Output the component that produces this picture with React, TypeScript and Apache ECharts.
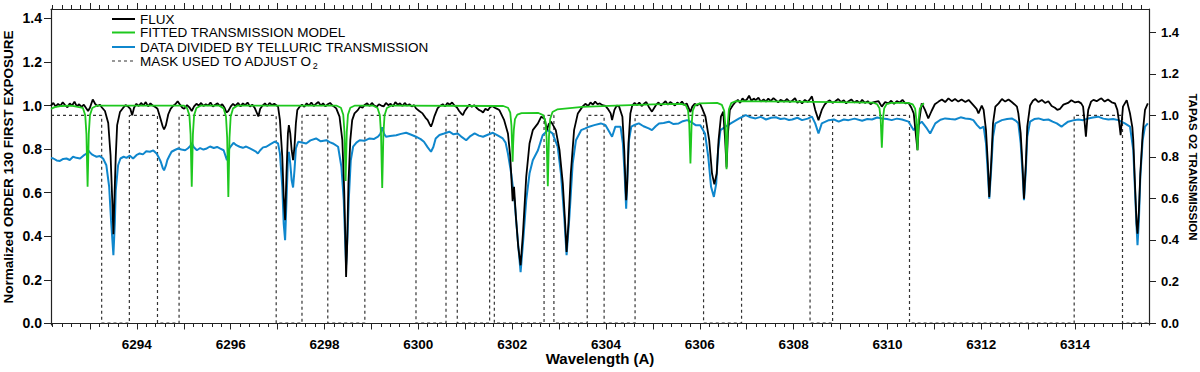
import React, { useEffect, useRef } from "react";
import * as echarts from "echarts";

// ---- axis ranges / tick labels ----
const X_MIN = 6292.17;
const X_MAX = 6315.575;
const X_LABELS = [6294, 6296, 6298, 6300, 6302, 6304, 6306, 6308, 6310, 6312, 6314];
const Y_LABELS = [0, 0.2, 0.4, 0.6, 0.8, 1.0, 1.2, 1.4];
const Y_RIGHT_LABELS = [0, 0.2, 0.4, 0.6, 0.8, 1.0, 1.2, 1.4];

const LEGEND_NAMES = ["FLUX", "FITTED TRANSMISSION MODEL", "DATA DIVIDED BY TELLURIC TRANSMISSION", "MASK USED TO ADJUST O"];

// ---- FLUX (black), [wavelength, normalized flux] ----
const FLUX: [number, number][] = [
  [6292.17,1.000],[6292.22,1.012],[6292.27,0.995],[6292.32,1.008],[6292.37,0.998],[6292.42,1.015],[6292.47,1.002],[6292.52,0.992],[6292.57,1.010],[6292.62,1.000],[6292.67,1.018],[6292.72,0.996],[6292.77,1.006],[6292.82,0.994],[6292.87,1.004],[6292.92,0.988],[6292.96,0.975],[6293.00,0.990],[6293.06,1.028],[6293.11,1.008],[6293.16,0.998],[6293.21,1.004],[6293.26,0.990],
  [6293.32,0.975],[6293.39,0.920],[6293.44,0.770],[6293.48,0.540],[6293.50,0.410],[6293.52,0.560],[6293.55,0.765],[6293.58,0.910],[6293.64,0.970],[6293.71,0.990],[6293.76,1.002],[6293.81,0.996],[6293.86,0.985],[6293.90,0.955],[6293.94,0.990],[6293.99,1.008],[6294.04,0.998],[6294.09,1.012],[6294.14,1.000],[6294.19,1.016],[6294.24,0.996],[6294.29,1.010],[6294.34,1.000],[6294.39,0.994],[6294.44,0.985],[6294.49,0.950],[6294.55,0.905],[6294.58,0.890],[6294.62,0.910],[6294.67,0.960],[6294.72,0.985],[6294.77,0.998],[6294.82,1.006],[6294.87,1.020],[6294.92,1.004],[6294.97,0.990],
  [6295.01,0.985],[6295.07,1.002],[6295.12,0.992],[6295.17,0.975],[6295.22,0.996],[6295.27,1.008],[6295.32,1.000],[6295.37,1.012],[6295.42,0.998],[6295.47,1.006],[6295.52,1.000],[6295.57,1.014],[6295.62,0.996],[6295.67,1.004],[6295.72,1.010],[6295.77,0.998],[6295.82,1.006],[6295.87,0.990],[6295.91,0.968],[6295.95,0.975],[6296.00,0.995],[6296.05,1.008],[6296.10,0.998],[6296.16,1.012],[6296.21,0.996],[6296.26,1.010],[6296.31,1.002],[6296.36,1.014],[6296.41,0.996],[6296.46,1.004],[6296.51,0.990],[6296.56,0.965],[6296.59,0.950],[6296.63,0.985],[6296.68,1.000],[6296.73,1.010],[6296.78,0.998],[6296.83,1.012],[6296.88,1.002],[6296.93,1.008],[6296.98,1.000],
  [6297.01,0.995],[6297.05,0.933],[6297.10,0.765],[6297.13,0.581],[6297.16,0.474],[6297.19,0.688],[6297.22,0.872],[6297.24,0.910],[6297.27,0.872],[6297.30,0.795],[6297.33,0.749],[6297.36,0.811],[6297.39,0.918],[6297.42,0.979],[6297.47,0.995],[6297.52,1.004],[6297.57,0.994],[6297.62,1.010],[6297.67,1.000],[6297.72,1.014],[6297.77,0.998],[6297.82,1.008],[6297.87,1.016],[6297.92,1.000],[6297.97,1.010],[6298.02,0.996],[6298.07,1.006],[6298.12,1.012],[6298.17,1.000],[6298.21,0.994],
  [6298.25,0.987],[6298.32,0.949],[6298.38,0.841],[6298.42,0.611],[6298.45,0.336],[6298.46,0.213],[6298.48,0.336],[6298.51,0.642],[6298.55,0.841],[6298.59,0.933],[6298.64,0.964],[6298.71,0.979],[6298.76,0.996],[6298.81,0.990],[6298.86,1.004],[6298.91,1.010],[6298.96,0.998],[6299.01,1.012],[6299.06,1.000],[6299.11,0.994],[6299.16,1.006],[6299.21,1.000],[6299.26,0.996],[6299.31,1.012],[6299.36,1.002],[6299.41,1.008],[6299.46,0.996],[6299.51,1.016],[6299.56,1.004],[6299.61,1.010],[6299.66,0.998],[6299.71,1.012],[6299.76,1.000],[6299.81,1.006],[6299.86,0.996],[6299.91,1.002],[6299.95,0.987],
  [6300.02,0.975],[6300.09,0.964],[6300.15,0.945],[6300.20,0.933],[6300.24,0.915],[6300.27,0.903],[6300.30,0.920],[6300.34,0.949],[6300.41,0.987],[6300.46,0.998],
  [6300.52,1.006],[6300.57,0.996],[6300.62,1.012],[6300.67,1.004],[6300.72,1.014],[6300.77,1.000],[6300.82,0.992],[6300.87,0.975],[6300.92,0.962],[6300.95,0.956],[6300.99,0.975],[6301.04,0.990],[6301.09,1.004],[6301.14,0.994],[6301.19,1.002],[6301.24,0.990],[6301.29,0.980],[6301.34,0.975],[6301.38,0.968],[6301.43,0.985],[6301.48,0.978],[6301.53,0.992],[6301.58,0.998],[6301.63,0.990],[6301.68,0.985],[6301.73,0.978],
  [6301.83,0.933],[6301.91,0.872],[6301.96,0.765],[6302.01,0.561],[6302.04,0.627],[6302.08,0.489],[6302.13,0.351],[6302.18,0.267],[6302.23,0.412],[6302.30,0.673],[6302.37,0.826],[6302.44,0.887],[6302.55,0.918],[6302.62,0.949],[6302.69,0.940],[6302.74,0.887],[6302.78,0.915],[6302.83,0.926],[6302.93,0.887],[6303.01,0.795],[6303.08,0.642],[6303.13,0.458],[6303.16,0.328],[6303.20,0.458],[6303.25,0.688],[6303.32,0.887],[6303.40,0.964],[6303.50,0.995],[6303.56,1.008],[6303.62,0.998],[6303.67,1.014],[6303.72,1.004],[6303.77,1.018],[6303.82,1.006],[6303.87,1.010],[6303.92,1.002],[6303.99,0.998],
  [6304.04,0.985],[6304.10,0.964],[6304.13,0.933],[6304.18,0.980],[6304.23,1.000],[6304.28,0.995],[6304.35,0.949],[6304.39,0.795],[6304.42,0.611],[6304.43,0.566],[6304.45,0.627],[6304.48,0.826],[6304.52,0.964],[6304.56,1.000],[6304.61,1.012],[6304.66,1.002],[6304.71,1.014],[6304.76,0.998],[6304.81,1.008],[6304.86,1.016],[6304.91,0.995],[6304.98,0.972],[6305.03,0.990],[6305.07,1.004],[6305.12,1.014],[6305.17,1.000],[6305.22,1.010],[6305.27,1.020],[6305.32,1.004],[6305.37,1.016],[6305.42,1.008],[6305.47,1.000],[6305.52,1.014],[6305.57,1.006],[6305.62,1.018],[6305.67,1.002],[6305.72,1.010],[6305.77,0.985],[6305.80,0.970],[6305.84,0.995],[6305.89,1.008],[6305.94,1.000],[6306.00,1.010],[6306.05,0.987],
  [6306.12,0.949],[6306.20,0.841],[6306.26,0.688],[6306.31,0.638],[6306.36,0.688],[6306.40,0.841],[6306.45,0.949],[6306.50,0.972],[6306.54,0.841],[6306.57,0.716],[6306.60,0.872],[6306.64,0.979],[6306.70,1.000],[6306.76,1.016],[6306.81,1.026],[6306.86,1.012],[6306.91,1.033],[6306.96,1.020],[6307.01,1.030],[6307.05,1.045],[6307.10,1.022],[6307.15,1.032],[6307.19,1.025],[6307.25,1.036],[6307.30,1.018],[6307.36,1.028],[6307.41,1.018],[6307.46,1.032],[6307.51,1.020],[6307.57,1.034],[6307.62,1.025],[6307.67,1.014],[6307.72,1.026],[6307.80,1.018],[6307.86,1.030],[6307.92,1.016],[6307.97,1.022],
  [6308.03,1.034],[6308.08,1.012],[6308.13,1.022],[6308.18,1.010],[6308.24,1.026],[6308.30,1.016],[6308.35,1.030],[6308.39,1.042],[6308.46,0.980],[6308.53,0.933],[6308.60,0.980],[6308.66,1.004],[6308.71,1.016],[6308.77,1.024],[6308.83,1.012],[6308.89,1.020],[6308.95,1.030],[6309.01,1.016],[6309.07,1.024],[6309.12,1.010],[6309.17,1.020],[6309.23,1.028],[6309.29,1.014],[6309.35,1.022],[6309.41,1.012],[6309.46,1.026],[6309.52,1.012],[6309.58,1.020],[6309.64,1.006],[6309.69,1.014],
  [6309.81,1.020],[6309.88,0.995],[6309.95,1.016],[6310.02,1.010],[6310.08,1.022],[6310.14,1.008],[6310.20,1.020],[6310.26,1.014],[6310.32,1.026],[6310.38,1.010],[6310.45,1.012],[6310.51,0.990],[6310.56,0.964],[6310.61,0.857],[6310.64,0.795],[6310.67,0.918],[6310.73,1.010],[6310.80,0.980],[6310.87,0.941],[6310.94,0.975],[6311.01,1.006],[6311.09,1.018],[6311.16,1.028],[6311.23,1.016],[6311.30,1.033],[6311.37,1.020],[6311.44,1.030],[6311.51,1.018],[6311.58,1.028],
  [6311.66,1.016],[6311.73,1.026],[6311.83,1.002],[6311.90,0.985],[6311.94,0.964],[6312.01,1.000],[6312.05,0.980],[6312.10,0.887],[6312.14,0.734],[6312.17,0.581],[6312.21,0.734],[6312.25,0.918],[6312.30,0.995],[6312.37,1.010],[6312.44,1.030],[6312.51,1.018],[6312.58,1.028],[6312.65,1.016],[6312.71,1.005],[6312.76,0.995],[6312.79,0.964],[6312.84,0.872],[6312.88,0.719],[6312.91,0.573],[6312.95,0.734],[6312.98,0.903],
  [6313.04,1.000],[6313.10,1.022],[6313.15,1.030],[6313.22,1.016],[6313.29,1.026],[6313.36,1.012],[6313.43,1.020],[6313.50,0.998],[6313.57,0.990],[6313.62,0.980],[6313.68,0.985],[6313.75,1.004],[6313.85,1.012],[6313.92,1.024],[6314.00,1.014],[6314.07,1.018],[6314.13,1.010],[6314.17,0.995],[6314.20,0.930],[6314.23,0.857],[6314.26,0.940],[6314.28,0.980],[6314.34,1.018],[6314.39,1.026],[6314.46,1.020],[6314.53,1.030],[6314.56,1.033],[6314.63,1.018],[6314.70,1.028],[6314.78,1.015],[6314.85,1.010],[6314.90,0.980],[6314.94,0.920],[6314.97,0.864],
  [6315.02,0.995],[6315.10,1.025],[6315.17,0.964],[6315.22,0.900],[6315.24,0.841],[6315.27,0.673],[6315.31,0.458],[6315.33,0.412],[6315.36,0.519],[6315.39,0.688],[6315.44,0.872],[6315.49,0.980],[6315.55,1.010]
];

// ---- DATA DIVIDED BY TELLURIC TRANSMISSION (blue) ----
const RATIO: [number, number][] = [
  [6292.17,0.760],[6292.22,0.757],[6292.29,0.748],[6292.36,0.746],[6292.43,0.755],[6292.50,0.757],[6292.57,0.750],[6292.64,0.765],[6292.71,0.760],[6292.79,0.757],[6292.86,0.770],[6292.93,0.780],[6292.96,0.795],[6293.00,0.785],[6293.04,0.776],[6293.09,0.770],[6293.14,0.765],[6293.21,0.768],[6293.28,0.757],
  [6293.35,0.726],[6293.41,0.627],[6293.45,0.474],[6293.50,0.313],[6293.53,0.458],[6293.55,0.611],[6293.60,0.726],[6293.65,0.757],[6293.72,0.765],[6293.78,0.760],[6293.85,0.770],[6293.92,0.757],[6293.99,0.772],[6294.06,0.780],[6294.13,0.776],[6294.20,0.790],[6294.28,0.788],[6294.35,0.794],[6294.42,0.780],[6294.47,0.760],[6294.51,0.742],[6294.55,0.715],[6294.58,0.703],[6294.62,0.725],[6294.65,0.750],[6294.70,0.772],[6294.74,0.788],[6294.81,0.796],[6294.88,0.803],[6294.95,0.798],
  [6295.03,0.795],[6295.09,0.804],[6295.14,0.815],[6295.17,0.829],[6295.21,0.810],[6295.28,0.795],[6295.35,0.805],[6295.42,0.798],[6295.49,0.803],[6295.56,0.812],[6295.64,0.805],[6295.71,0.810],[6295.78,0.802],[6295.85,0.795],[6295.92,0.749],[6295.97,0.803],[6296.01,0.815],[6296.06,0.829],[6296.12,0.818],[6296.19,0.811],[6296.26,0.806],[6296.33,0.812],[6296.41,0.803],[6296.48,0.795],[6296.54,0.788],[6296.58,0.780],[6296.63,0.795],[6296.69,0.808],[6296.76,0.811],[6296.84,0.822],[6296.94,0.834],
  [6297.01,0.826],[6297.05,0.780],[6297.10,0.627],[6297.13,0.458],[6297.16,0.382],[6297.19,0.566],[6297.22,0.749],[6297.24,0.788],[6297.27,0.734],[6297.30,0.657],[6297.33,0.624],[6297.36,0.703],[6297.39,0.803],[6297.44,0.834],[6297.52,0.830],[6297.61,0.826],[6297.70,0.840],[6297.82,0.849],[6297.92,0.836],[6298.04,0.841],[6298.11,0.832],[6298.18,0.826],[6298.29,0.811],
  [6298.36,0.719],[6298.41,0.566],[6298.44,0.382],[6298.46,0.267],[6298.49,0.397],[6298.52,0.581],[6298.56,0.749],[6298.61,0.811],[6298.68,0.830],[6298.75,0.841],[6298.85,0.838],[6298.96,0.849],[6299.05,0.846],[6299.14,0.857],[6299.19,0.870],[6299.23,0.900],[6299.27,0.870],[6299.31,0.857],[6299.40,0.860],[6299.53,0.864],[6299.63,0.870],[6299.74,0.875],[6299.85,0.866],[6299.95,0.857],
  [6300.05,0.846],[6300.12,0.834],[6300.20,0.808],[6300.27,0.788],[6300.32,0.810],[6300.37,0.849],[6300.45,0.865],[6300.55,0.872],[6300.66,0.880],[6300.75,0.868],[6300.84,0.872],[6300.93,0.855],[6301.02,0.841],[6301.11,0.860],[6301.20,0.872],[6301.29,0.862],[6301.38,0.857],[6301.48,0.866],[6301.59,0.875],[6301.70,0.862],[6301.80,0.849],
  [6301.86,0.830],[6301.91,0.780],[6301.98,0.688],[6302.05,0.566],[6302.12,0.382],[6302.18,0.236],[6302.23,0.366],[6302.30,0.566],[6302.37,0.688],[6302.44,0.749],[6302.55,0.795],[6302.65,0.864],[6302.76,0.887],[6302.86,0.872],[6302.97,0.811],[6303.04,0.688],[6303.11,0.489],[6303.16,0.313],[6303.22,0.489],[6303.29,0.734],[6303.36,0.841],[6303.47,0.887],[6303.56,0.895],[6303.64,0.903],[6303.75,0.910],[6303.89,0.918],[6303.99,0.910],
  [6304.07,0.880],[6304.13,0.857],[6304.20,0.903],[6304.31,0.903],[6304.36,0.826],[6304.40,0.673],[6304.43,0.527],[6304.46,0.688],[6304.49,0.841],[6304.54,0.903],[6304.62,0.912],[6304.70,0.918],[6304.80,0.905],[6304.91,0.895],[6304.98,0.887],[6305.06,0.905],[6305.13,0.918],[6305.23,0.920],[6305.34,0.926],[6305.44,0.915],[6305.55,0.918],[6305.64,0.928],[6305.73,0.933],[6305.80,0.926],[6305.91,0.910],[6306.01,0.910],[6306.11,0.872],
  [6306.18,0.765],[6306.24,0.627],[6306.30,0.581],[6306.35,0.642],[6306.39,0.795],[6306.44,0.887],[6306.55,0.903],[6306.66,0.918],[6306.84,0.941],[6306.98,0.956],[6307.08,0.946],[6307.19,0.941],[6307.30,0.948],[6307.41,0.936],[6307.52,0.944],[6307.62,0.946],[6307.72,0.938],[6307.80,0.941],[6307.90,0.934],[6307.97,0.936],
  [6308.08,0.944],[6308.18,0.933],[6308.30,0.940],[6308.39,0.949],[6308.46,0.918],[6308.53,0.872],[6308.60,0.918],[6308.75,0.933],[6308.86,0.936],[6308.96,0.926],[6309.07,0.936],[6309.17,0.933],[6309.30,0.940],[6309.46,0.930],[6309.57,0.938],[6309.67,0.936],[6309.78,0.945],[6309.88,0.941],[6309.99,0.938],
  [6310.09,0.933],[6310.20,0.940],[6310.31,0.936],[6310.45,0.926],[6310.56,0.887],[6310.64,0.910],[6310.73,0.926],[6310.84,0.895],[6310.91,0.872],[6311.02,0.918],[6311.13,0.935],[6311.23,0.941],[6311.34,0.938],[6311.44,0.936],[6311.56,0.946],
  [6311.66,0.941],[6311.76,0.938],[6311.83,0.933],[6311.91,0.910],[6311.98,0.895],[6312.05,0.903],[6312.10,0.826],[6312.14,0.688],[6312.17,0.573],[6312.21,0.703],[6312.25,0.857],[6312.30,0.918],[6312.44,0.933],[6312.55,0.938],[6312.65,0.941],[6312.74,0.930],[6312.79,0.918],[6312.84,0.826],[6312.88,0.688],[6312.91,0.566],[6312.95,0.703],[6312.98,0.857],
  [6313.04,0.926],[6313.13,0.938],[6313.22,0.941],[6313.33,0.934],[6313.43,0.936],[6313.52,0.926],[6313.61,0.918],[6313.71,0.903],[6313.78,0.915],[6313.85,0.926],[6313.96,0.932],[6314.07,0.936],[6314.17,0.933],[6314.28,0.941],[6314.38,0.945],[6314.49,0.949],[6314.60,0.940],[6314.71,0.936],[6314.81,0.938],[6314.92,0.933],
  [6315.06,0.918],[6315.17,0.903],[6315.24,0.795],[6315.27,0.642],[6315.31,0.443],[6315.33,0.359],[6315.36,0.474],[6315.39,0.673],[6315.44,0.841],[6315.49,0.903],[6315.55,0.918]
];

// ---- FITTED TRANSMISSION MODEL (green) ----
const MODEL: [number, number][] = [
  [6292.17,0.985],[6292.25,0.993],[6292.40,0.998],[6292.60,1.000],
  [6292.85,0.989],[6292.90,0.955],[6292.925,0.869],[6292.938,0.739],[6292.95,0.627],[6292.962,0.739],[6292.975,0.869],[6293.00,0.955],[6293.05,0.989],[6293.15,1.000],
  [6295.00,1.000],
  [6295.07,0.989],[6295.12,0.955],[6295.145,0.869],[6295.158,0.739],[6295.17,0.627],[6295.182,0.739],[6295.195,0.869],[6295.22,0.955],[6295.27,0.989],[6295.37,1.000],
  [6295.75,1.000],
  [6295.85,0.987],[6295.90,0.950],[6295.925,0.853],[6295.938,0.706],[6295.95,0.580],[6295.962,0.706],[6295.975,0.853],[6296.00,0.950],[6296.05,0.987],[6296.15,1.000],
  [6298.25,1.000],
  [6298.35,0.990],[6298.40,0.958],[6298.425,0.879],[6298.438,0.758],[6298.45,0.654],[6298.462,0.758],[6298.475,0.879],[6298.50,0.958],[6298.55,0.990],[6298.65,1.000],
  [6299.03,1.000],
  [6299.13,0.989],[6299.18,0.955],[6299.205,0.868],[6299.218,0.735],[6299.23,0.622],[6299.242,0.735],[6299.255,0.868],[6299.28,0.955],[6299.33,0.989],[6299.43,1.000],
  [6301.81,0.998],
  [6301.91,0.990],[6301.96,0.967],[6301.985,0.908],[6301.998,0.819],[6302.01,0.742],[6302.022,0.826],[6302.035,0.887],[6302.06,0.938],[6302.11,0.958],[6302.20,0.965],
  [6302.56,0.966],
  [6302.66,0.956],[6302.71,0.926],[6302.735,0.848],[6302.748,0.731],[6302.76,0.630],[6302.772,0.735],[6302.785,0.858],[6302.81,0.938],[6302.86,0.970],[6302.96,0.982],
  [6303.50,0.994],[6304.20,1.000],[6305.00,1.005],[6305.60,1.008],
  [6305.70,1.002],[6305.75,0.977],[6305.775,0.913],[6305.788,0.817],[6305.80,0.734],[6305.812,0.817],[6305.825,0.913],[6305.85,0.977],[6305.90,1.002],[6306.00,1.010],
  [6306.37,1.012],
  [6306.47,1.003],[6306.52,0.976],[6306.545,0.906],[6306.558,0.799],[6306.57,0.708],[6306.582,0.802],[6306.595,0.911],[6306.62,0.983],[6306.67,1.011],[6306.77,1.020],
  [6308.00,1.018],[6309.70,1.013],
  [6309.78,1.006],[6309.83,0.987],[6309.855,0.940],[6309.868,0.868],[6309.88,0.807],[6309.892,0.868],[6309.905,0.940],[6309.93,0.987],[6309.98,1.006],[6310.08,1.012],
  [6310.44,1.012],
  [6310.54,1.005],[6310.59,0.986],[6310.615,0.936],[6310.628,0.860],[6310.64,0.795],[6310.652,0.860],[6310.665,0.936],[6310.69,0.986],[6310.74,1.005],[6310.78,1.010]
];

// ---- MASK windows (wavelength ranges set to 0 on the right axis) ----
const MASK_WINDOWS: [number, number][] = [
  [6293.25, 6293.84], [6294.44, 6294.90], [6296.97, 6297.52], [6298.07, 6298.86],
  [6299.95, 6300.59], [6300.83, 6301.52], [6301.62, 6302.68], [6302.89, 6303.60],
  [6303.96, 6304.62], [6306.08, 6306.89], [6308.35, 6308.83], [6310.47, 6313.98],
  [6315.01, 6315.575]
];

const FONT = '"Liberation Sans", Arial, Helvetica, sans-serif';
const BLACK = "#000000";
const GREEN = "#1ec81e";
const BLUE = "#0f87cd";
const AXIS_COLOR = "#222222";

function buildMask(): [number, number][] {
  const out: [number, number][] = [[X_MIN, 1]];
  for (const [a, b] of MASK_WINDOWS) {
    out.push([a, 1], [a, 0], [b, 0]);
    if (b < X_MAX) out.push([b, 1]);
  }
  const last = MASK_WINDOWS[MASK_WINDOWS.length - 1];
  if (last[1] < X_MAX) out.push([X_MAX, 1]);
  return out;
}

function range(start: number, end: number, step: number): number[] {
  const out: number[] = [];
  const n = Math.round((end - start) / step);
  for (let i = 0; i <= n; i++) out.push(Math.round((start + i * step) * 1000) / 1000);
  return out;
}

export default function App() {
  const ref = useRef<HTMLDivElement>(null);

  useEffect(() => {
    if (!ref.current) return;
    const chart = echarts.init(ref.current, null, { renderer: "svg" });

    const unitTicks = range(6293, 6315, 1);
    const minorTicks = range(6292.2, 6315.4, 0.2).filter((v) => Math.abs(v - Math.round(v)) > 0.01);
    const axisLine = { show: true, lineStyle: { color: AXIS_COLOR, width: 1.2 } };
    const tickStyle = { color: AXIS_COLOR, width: 1 };
    const labelStyle = { fontFamily: FONT, fontWeight: "bold" as const, color: BLACK };

    const legendY = [19, 32.5, 47, 61];
    const legendColors = [BLACK, GREEN, BLUE, "#333333"];
    const graphic: any[] = [];
    LEGEND_NAMES.forEach((name, i) => {
      graphic.push({
        type: "line",
        shape: { x1: 112, y1: legendY[i], x2: 135, y2: legendY[i] },
        style: { stroke: legendColors[i], lineWidth: i === 3 ? 1.2 : 2, lineDash: i === 3 ? [3, 3] : null },
        silent: true,
      });
      graphic.push({
        type: "text",
        x: 140,
        y: legendY[i],
        style: { text: name, fill: BLACK, font: `normal 13.5px ${FONT}`, textAlign: "left", textVerticalAlign: "middle" },
        silent: true,
      });
    });
    graphic.push({
      type: "text",
      x: 312.8,
      y: 66,
      style: { text: "2", fill: BLACK, font: `normal 9px ${FONT}`, textAlign: "left", textVerticalAlign: "middle" },
      silent: true,
    });

    chart.setOption({
      animation: false,
      backgroundColor: "#ffffff",
      grid: { left: 51, right: 51, top: 9, bottom: 47, containLabel: false, outerBoundsMode: "none" },
      xAxis: [
        {
          type: "value", position: "bottom", min: X_MIN, max: X_MAX,
          axisLine,
          axisTick: { show: true, customValues: unitTicks, length: 6, inside: false, lineStyle: tickStyle },
          axisLabel: { customValues: X_LABELS, margin: 12, fontSize: 13.5, ...labelStyle, formatter: (v: number) => String(Math.round(v)) },
          splitLine: { show: false },
          name: "Wavelength (A)", nameLocation: "middle", nameGap: 26, nameMoveOverlap: false,
          nameTextStyle: { fontFamily: FONT, fontWeight: "bold", fontSize: 15, color: BLACK },
        },
        {
          type: "value", position: "bottom", min: X_MIN, max: X_MAX,
          axisLine: { show: false },
          axisTick: { show: true, customValues: minorTicks, length: 4, inside: false, lineStyle: tickStyle },
          axisLabel: { show: false }, splitLine: { show: false },
        },
        {
          type: "value", position: "top", min: X_MIN, max: X_MAX,
          axisLine,
          axisTick: { show: true, customValues: unitTicks, length: 6, inside: false, lineStyle: tickStyle },
          axisLabel: { show: false }, splitLine: { show: false },
        },
        {
          type: "value", position: "top", min: X_MIN, max: X_MAX,
          axisLine: { show: false },
          axisTick: { show: true, customValues: minorTicks, length: 4, inside: false, lineStyle: tickStyle },
          axisLabel: { show: false }, splitLine: { show: false },
        },
      ],
      yAxis: [
        {
          type: "value", position: "left", min: -0.007, max: 1.443,
          axisLine,
          axisTick: { show: true, customValues: Y_LABELS, length: 7, inside: false, lineStyle: tickStyle },
          axisLabel: { customValues: Y_LABELS, margin: 9, fontSize: 14, ...labelStyle, formatter: (v: number) => v.toFixed(1) },
          splitLine: { show: false },
          name: "Normalized ORDER 130 FIRST EXPOSURE", nameLocation: "middle", nameRotate: 90, nameGap: 36, nameMoveOverlap: false,
          nameTextStyle: { fontFamily: FONT, fontWeight: "bold", fontSize: 13.5, color: BLACK },
        },
        {
          type: "value", position: "right", min: -0.0096, max: 1.513,
          axisLine,
          axisTick: { show: true, customValues: Y_RIGHT_LABELS, length: 7, inside: false, lineStyle: tickStyle },
          axisLabel: { customValues: Y_RIGHT_LABELS, margin: 12, fontSize: 13, ...labelStyle, formatter: (v: number) => v.toFixed(1) },
          splitLine: { show: false },
          name: "TAPAS O2 TRANSMISSION", nameLocation: "middle", nameRotate: -90, nameGap: 38, nameMoveOverlap: false,
          nameTextStyle: { fontFamily: FONT, fontWeight: "bold", fontSize: 11.5, color: BLACK },
        },
      ],
      series: [
        {
          name: "MASK USED TO ADJUST O2", type: "line", xAxisIndex: 0, yAxisIndex: 1,
          data: buildMask(), symbol: "none", silent: true, z: 1,
          lineStyle: { color: "#333333", width: 1.2, type: [3, 3] },
        },
        {
          name: "DATA DIVIDED BY TELLURIC TRANSMISSION", type: "line", xAxisIndex: 0, yAxisIndex: 0,
          data: RATIO, symbol: "none", silent: true, z: 2,
          lineStyle: { color: BLUE, width: 2 },
        },
        {
          name: "FLUX", type: "line", xAxisIndex: 0, yAxisIndex: 0,
          data: FLUX, symbol: "none", silent: true, z: 3,
          lineStyle: { color: BLACK, width: 1.8 },
        },
        {
          name: "FITTED TRANSMISSION MODEL", type: "line", xAxisIndex: 0, yAxisIndex: 0,
          data: MODEL, symbol: "none", silent: true, z: 4,
          lineStyle: { color: GREEN, width: 1.8 },
        },
      ],
      graphic,
    });

    return () => chart.dispose();
  }, []);

  return <div ref={ref} style={{ position: "absolute", left: 0, top: 0, width: 1200, height: 372 }} />;
}
